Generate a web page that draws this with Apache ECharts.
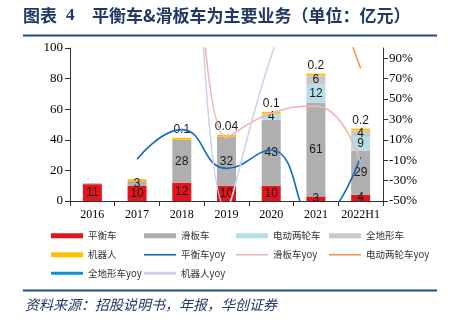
<!DOCTYPE html>
<html>
<head>
<meta charset="utf-8">
<script src="https://cdn.jsdelivr.net/npm/echarts@6/dist/echarts.min.js"></script>
<style>
html,body{margin:0;padding:0;background:#fff;}
#c{width:457px;height:322px;}
</style>
</head>
<body>
<div id="c"></div>
<script>
const categories = ['2016','2017','2018','2019','2020','2021','2022H1'];
const balanceCar = [11, 10, 12, 10, 10, 3, 4];
const scooter = [0.6, 3, 28, 32, 43, 61, 29];
const eBike = [null, null, null, null, 4, 12, 9];
const atv = [null, null, null, null, null, 6, 4];
const robot = [null, 0.6, 0.1, 0.04, 0.1, 0.2, 0.2];
const robotLabels = ['', '', '0.1', '0.04', '0.1', '0.2', '0.2'];
const balanceYoy = [null, -9, 20, -18, 0, -70, -7];
const scooterYoy = [null, null, 833, 12, 36, 43, -12];
const eBikeYoy = [null, null, null, null, null, 200, 80];
const atvYoy = [null, null, null, null, null, null, null];
const robotYoy = [null, null, 1000, -58, 92, 200, null];
const leftTicks = [0, 20, 40, 60, 80, 100];
const rightTicks = [-50, -30, -10, 10, 30, 50, 70, 90];

const serif = "'Liberation Serif', 'Noto Sans CJK SC', serif";
const sans = "'Liberation Sans', Arial, sans-serif";
const cjk = "'Noto Sans CJK SC', sans-serif";

const chart = echarts.init(document.getElementById('c'), null, {renderer: 'canvas'});

function inLabel() {
  return {
    show: true, position: 'inside', color: '#1a1a1a', fontFamily: sans, fontSize: 12,
    formatter: function (p) { return (p.value == null || p.value < 1) ? '' : String(p.value); }
  };
}

const barDefs = [
  {name: '平衡车', data: balanceCar, color: '#e3141b'},
  {name: '滑板车', data: scooter, color: '#afafaf'},
  {name: '电动两轮车', data: eBike, color: '#b7dde8'},
  {name: '全地形车', data: atv, color: '#c9c9c9'},
];
const lineDefs = [
  {name: '平衡车yoy', data: balanceYoy, color: '#0a6bc4', width: 1.6},
  {name: '滑板车yoy', data: scooterYoy, color: '#f2b3b3', width: 1.6},
  {name: '电动两轮车yoy', data: eBikeYoy, color: '#f79646', width: 1.6},
  {name: '全地形车yoy', data: atvYoy, color: '#0b8fd6', width: 3},
  {name: '机器人yoy', data: robotYoy, color: '#cdd1ea', width: 1.6},
];

const series = [];
barDefs.forEach(function (b) {
  series.push({
    name: b.name, type: 'bar', stack: 'total', yAxisIndex: 0, barWidth: 19,
    data: b.data, itemStyle: {color: b.color},
    label: inLabel(), z: 2
  });
});
series.push({
  name: '机器人', type: 'bar', stack: 'total', yAxisIndex: 0, barWidth: 19, barMinHeight: 2,
  data: robot, itemStyle: {color: '#ffc000'},
  label: {show: true, position: 'top', distance: 2, color: '#1a1a1a', fontFamily: sans, fontSize: 12,
    formatter: function (p) { return robotLabels[p.dataIndex]; }},
  z: 2
});
lineDefs.forEach(function (l) {
  series.push({
    name: l.name, type: 'line', yAxisIndex: 1, data: l.data, smooth: 0.5, symbol: 'none',
    clip: true, lineStyle: {color: l.color, width: l.width}, itemStyle: {color: l.color}, z: 3
  });
});

// legend layout: 4 columns x 3 rows
const legendOrder = ['平衡车','滑板车','电动两轮车','全地形车','机器人','平衡车yoy','滑板车yoy','电动两轮车yoy','全地形车yoy','机器人yoy'];
const colX = [51, 144, 236, 329];
const rowY = [237, 256, 274.5];
const legends = legendOrder.map(function (n, i) {
  const isBar = i < 5;
  const thick = (n === '全地形车yoy' || n === '机器人yoy');
  return {
    data: [{name: n, icon: 'rect'}],
    left: colX[i % 4], top: rowY[Math.floor(i / 4)] - 6,
    itemWidth: 32, itemHeight: isBar ? 5 : (thick ? 3 : 1.6), itemGap: 4, padding: 0,
    textStyle: {fontFamily: cjk, fontSize: 9.5, color: '#333', padding: [0,0,0,0]},
  };
});

chart.setOption({
  animation: false,
  backgroundColor: '#fff',
  grid: {left: 70, right: 74, top: 48, bottom: 121, containLabel: false},
  legend: legends,
  xAxis: {
    type: 'category', data: categories,
    axisLine: {lineStyle: {color: '#333', width: 1}},
    axisTick: {show: true, length: 5, lineStyle: {color: '#333'}},
    axisLabel: {color: '#000', fontFamily: serif, fontSize: 12, margin: 8, interval: 0, hideOverlap: false}
  },
  yAxis: [
    {
      type: 'value', min: 0, max: 100, interval: 20,
      axisLine: {show: true, lineStyle: {color: '#333'}},
      axisTick: {show: true, length: 5, lineStyle: {color: '#333'}},
      axisLabel: {color: '#000', fontFamily: serif, fontSize: 13, margin: 7},
      splitLine: {show: false}
    },
    {
      type: 'value', min: -50, max: 100, position: 'right',
      axisLine: {show: true, lineStyle: {color: '#333'}},
      axisTick: {show: true, length: 5, customValues: rightTicks, lineStyle: {color: '#333'}},
      axisLabel: {color: '#000', fontFamily: serif, fontSize: 13, margin: 6, customValues: rightTicks,
        formatter: function (v) { return v + '%'; }},
      splitLine: {show: false}
    }
  ],
  series: series,
  graphic: [
    {type: 'text', left: 23, top: 7, style: {text: '图表', font: "bold 17px 'Noto Sans CJK SC'", fill: '#1f3864'}},
    {type: 'text', left: 66, top: 7, style: {text: '4', font: "bold 17px 'Liberation Serif'", fill: '#1f3864'}},
    {type: 'text', left: 92, top: 7, style: {text: '平衡车&滑板车为主要业务（单位：亿元）', font: "bold 17px 'Noto Sans CJK SC'", fill: '#1f3864'}},
    {type: 'line', shape: {x1: 23, y1: 35.5, x2: 437, y2: 35.5}, style: {stroke: '#1f4e79', lineWidth: 2}},
    {type: 'line', shape: {x1: 23, y1: 290.5, x2: 437, y2: 290.5}, style: {stroke: '#1f4e79', lineWidth: 2}},
    {type: 'text', left: 25, top: 298, style: {text: '资料来源：招股说明书，年报，华创证券', font: "italic 14px 'Noto Sans CJK SC'", fill: '#1f3864'}}
  ]
});
</script>
</body>
</html>
